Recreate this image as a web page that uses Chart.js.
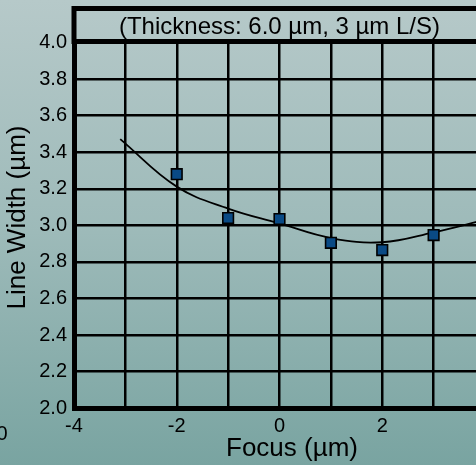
<!DOCTYPE html>
<html lang="en">
<head>
<meta charset="UTF-8" />
<title>Line Width vs Focus</title>
<script src="https://cdn.jsdelivr.net/npm/chart.js"></script>
<style>
    html, body { margin: 0; padding: 0; }
    body {
        width: 476px;
        height: 465px;
        overflow: hidden;
        position: relative;
        background: linear-gradient(to bottom, #b6c9c9 0%, #9dbab9 50%, #79a4a1 100%);
    }
    #chart { position: absolute; left: 0; top: 0; }
</style>
</head>
<body>

<canvas id="chart" width="520" height="465"></canvas>

<script>
    // measured points
    const focusValues = [-2, -1, 0, 1, 2, 3];
    const lineWidths = [3.28, 3.04, 3.035, 2.905, 2.865, 2.947];

    // fitted curve
    const fitFocus = [-3.1, -2, -1, 0, 1, 2, 3, 4];
    const fitWidth = [3.472, 3.212, 3.092, 3.011, 2.931, 2.908, 2.962, 3.03];

    // ticks
    const xTickValues = [-4, -3, -2, -1, 0, 1, 2, 3, 4];
    const xTickLabels = ['-4', '', '-2', '', '0', '', '2', '', '4'];
    const yTickValues = [2.0, 2.2, 2.4, 2.6, 2.8, 3.0, 3.2, 3.4, 3.6, 3.8, 4.0];
    const yTickLabels = ['2.0', '2.2', '2.4', '2.6', '2.8', '3.0', '3.2', '3.4', '3.6', '3.8', '4.0'];

    const FONT = "'Liberation Sans', Arial, sans-serif";

    // title box, axis titles and the cut-off label at the left edge
    const extraText = {
        id: 'extraText',
        afterDraw(chart) {
            const { ctx, chartArea } = chart;
            ctx.save();
            ctx.strokeStyle = '#000';
            ctx.lineWidth = 5;
            ctx.strokeRect(chartArea.left, 8.5, chartArea.right - chartArea.left, chartArea.top - 9.5);

            ctx.fillStyle = '#000';
            ctx.textAlign = 'center';
            ctx.textBaseline = 'middle';
            ctx.font = '26px ' + FONT;
            ctx.fillText('Focus (µm)', 292, 449);

            ctx.font = '20px ' + FONT;
            ctx.textAlign = 'right';
            ctx.fillText('0', 7.5, 434);

            ctx.font = '26px ' + FONT;
            ctx.textAlign = 'center';
            ctx.translate(18, 217.5);
            ctx.rotate(-Math.PI / 2);
            ctx.fillText('Line Width (µm)', 0, 0);
            ctx.restore();
        }
    };

    new Chart(document.getElementById('chart'), {
        type: 'scatter',
        data: {
            datasets: [{
                label: 'Measured',
                data: focusValues.map((x, i) => ({ x: x, y: lineWidths[i] })),
                pointStyle: 'rect',
                pointRadius: 7.5,
                pointHoverRadius: 7.5,
                backgroundColor: '#0a4a85',
                borderColor: '#000',
                borderWidth: 1.6
            }, {
                label: 'Fit',
                data: fitFocus.map((x, i) => ({ x: x, y: fitWidth[i] })),
                showLine: true,
                pointRadius: 0,
                borderColor: '#000',
                borderWidth: 1.8,
                tension: 0.4
            }]
        },
        options: {
            responsive: false,
            animation: false,
            devicePixelRatio: 1,
            layout: { padding: { left: 0, right: 35, top: 0, bottom: 0 } },
            plugins: {
                legend: { display: false },
                tooltip: { enabled: false },
                title: {
                    display: true,
                    text: '(Thickness: 6.0 µm, 3 µm L/S)',
                    fullSize: false,
                    color: '#000',
                    font: { family: FONT, size: 24, weight: 'normal' },
                    padding: { top: 13, bottom: 0.7 }
                }
            },
            scales: {
                x: {
                    type: 'linear',
                    min: -4,
                    max: 4,
                    afterBuildTicks: scale => { scale.ticks = xTickValues.map(v => ({ value: v })); },
                    afterFit: scale => { scale.height = 56.7; },
                    ticks: {
                        callback: (value, index) => xTickLabels[index],
                        color: '#000',
                        font: { family: FONT, size: 20 },
                        padding: 6,
                        maxRotation: 0,
                        autoSkip: false
                    },
                    grid: { color: '#000', lineWidth: 2.5, drawTicks: false },
                    border: { color: '#000', width: 5 }
                },
                y: {
                    type: 'linear',
                    min: 2,
                    max: 4,
                    afterBuildTicks: scale => { scale.ticks = yTickValues.map(v => ({ value: v })); },
                    afterFit: scale => { scale.width = 74; },
                    ticks: {
                        callback: (value, index) => yTickLabels[index],
                        color: '#000',
                        font: { family: FONT, size: 20 },
                        padding: 7,
                        autoSkip: false
                    },
                    grid: { color: '#000', lineWidth: 2.5, drawTicks: false },
                    border: { color: '#000', width: 5 }
                }
            }
        },
        plugins: [extraText]
    });
</script>

</body>
</html>
